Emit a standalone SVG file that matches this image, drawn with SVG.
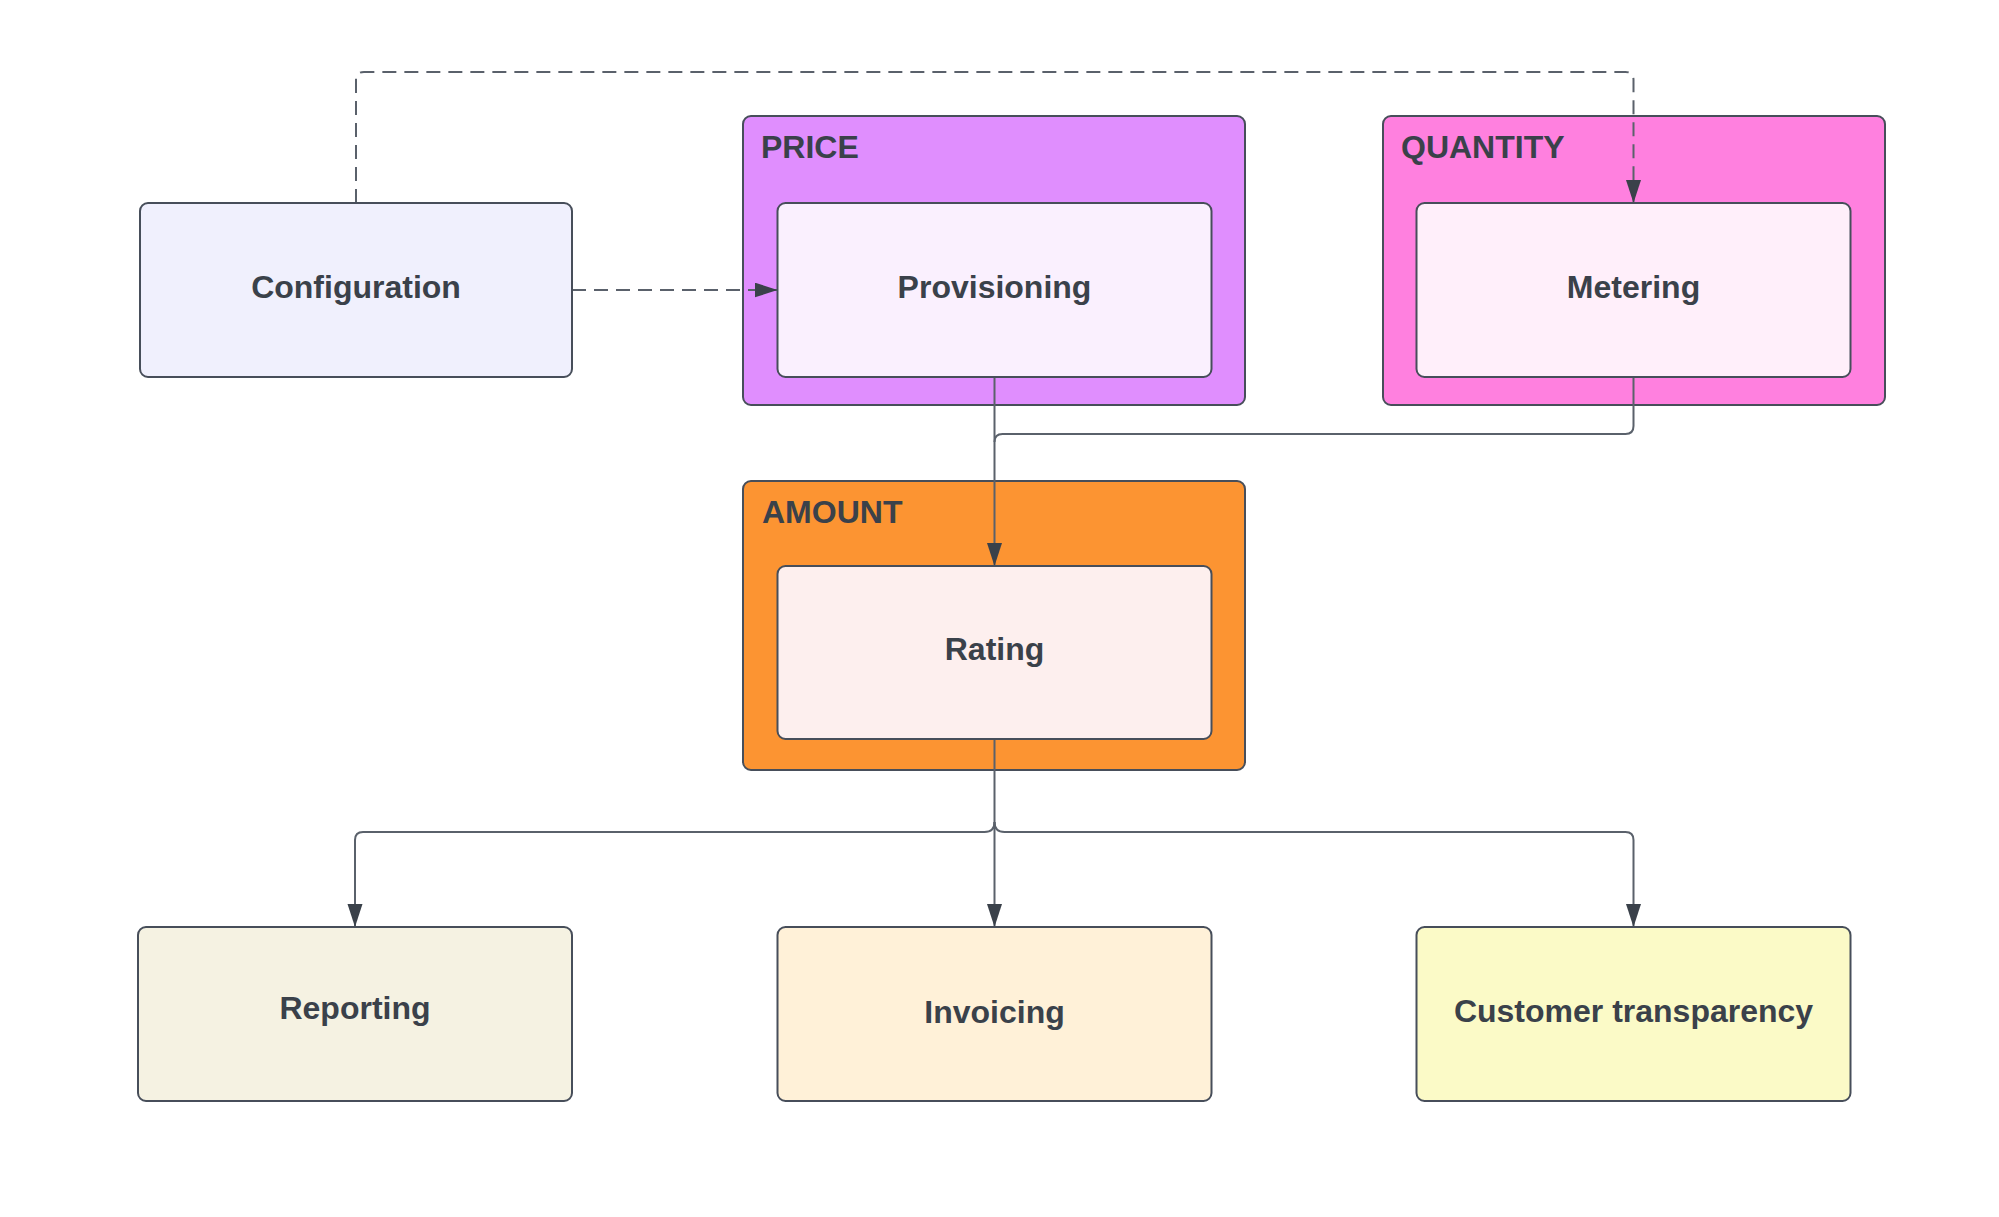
<svg xmlns="http://www.w3.org/2000/svg" width="1999" height="1217" viewBox="0 0 1999 1217">
<style>
.box{stroke:#474e5a;stroke-width:2}
.lbl{font-family:"Liberation Sans",Arial,sans-serif;font-weight:bold;font-size:32px;fill:#3a414a;text-anchor:middle}
.glbl{font-family:"Liberation Sans",Arial,sans-serif;font-weight:bold;font-size:32px;fill:#3a414a}
.con{fill:none;stroke:#5a616b;stroke-width:2}
.dash{stroke-dasharray:14 8}
</style>
<defs>
<marker id="arr" markerUnits="userSpaceOnUse" markerWidth="24" markerHeight="16" refX="23" refY="7.5" orient="auto">
<path d="M0,0 L23,7.5 L0,15 z" fill="#3a414a"/>
</marker>
</defs>
<rect width="1999" height="1217" fill="#ffffff"/>
<g id="price">
<rect class="box" x="743" y="116" width="502" height="289" rx="8" fill="#e08efe"/>
<text class="glbl" x="761" y="158">PRICE</text>
</g>
<g id="quantity">
<rect class="box" x="1383" y="116" width="502" height="289" rx="8" fill="#ff80df"/>
<text class="glbl" x="1401" y="158">QUANTITY</text>
</g>
<g id="amount">
<rect class="box" x="743" y="481" width="502" height="289" rx="8" fill="#fc9432"/>
<text class="glbl" x="762" y="523">AMOUNT</text>
</g>
<g id="connectors">
<path class="con dash" d="M572,290 L777.5,290" marker-end="url(#arr)"/>
<path class="con dash" d="M356,203 V80 Q356,72 364,72 H1625.5 Q1633.5,72 1633.5,80 V203" marker-end="url(#arr)"/>
<path class="con" d="M994.5,377 V566" marker-end="url(#arr)"/>
<path class="con" d="M1633.5,377 V426 Q1633.5,434 1625.5,434 H1002.5 Q994.5,434 994.5,442"/>
<path class="con" d="M994.5,739 V927" marker-end="url(#arr)"/>
<path class="con" d="M994.5,822 Q994.5,832 984.5,832 H363 Q355,832 355,840 V927" marker-end="url(#arr)"/>
<path class="con" d="M994.5,822 Q994.5,832 1004.5,832 H1625.5 Q1633.5,832 1633.5,840 V927" marker-end="url(#arr)"/>
</g>
<g id="configuration">
<rect class="box" x="140" y="203" width="432" height="174" rx="8" fill="#f0f0fd"/>
<text class="lbl" x="356" y="298">Configuration</text>
</g>
<g id="provisioning">
<rect class="box" x="777.5" y="203" width="434" height="174" rx="8" fill="#faf0fe"/>
<text class="lbl" x="994.5" y="298">Provisioning</text>
</g>
<g id="metering">
<rect class="box" x="1416.5" y="203" width="434" height="174" rx="8" fill="#ffeffa"/>
<text class="lbl" x="1633.5" y="298">Metering</text>
</g>
<g id="rating">
<rect class="box" x="777.5" y="566" width="434" height="173" rx="8" fill="#fdefee"/>
<text class="lbl" x="994.5" y="660">Rating</text>
</g>
<g id="reporting">
<rect class="box" x="138" y="927" width="434" height="174" rx="8" fill="#f5f2e2"/>
<text class="lbl" x="355" y="1019">Reporting</text>
</g>
<g id="invoicing">
<rect class="box" x="777.5" y="927" width="434" height="174" rx="8" fill="#fff1d8"/>
<text class="lbl" x="994.5" y="1023">Invoicing</text>
</g>
<g id="customer-transparency">
<rect class="box" x="1416.5" y="927" width="434" height="174" rx="8" fill="#fbfac7"/>
<text class="lbl" x="1633.5" y="1022">Customer transparency</text>
</g>
</svg>
